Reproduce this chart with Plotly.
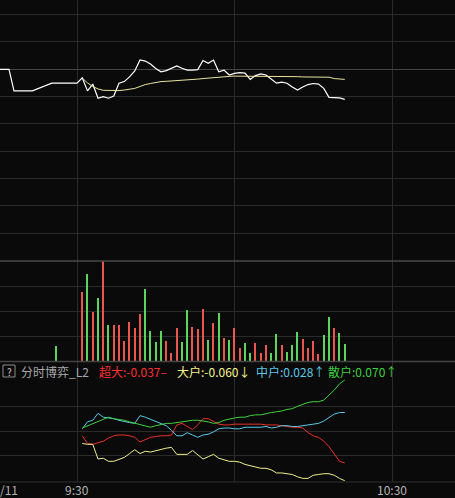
import plotly.graph_objects as go

# x = minutes after 9:30 (negative = pre-open auction)
pre_minutes = [-14.67, -12.95, -12.0, -8.5, -4.8]
pre_price = [0.00, 0.00, -0.79, -0.79, -0.51]

minutes = list(range(0, 52))
price = [-0.51, -0.31, -0.79, -0.54, -1.06, -1.00, -1.06, -0.98, -0.51, -0.45,
         -0.28, -0.06, 0.34, 0.30, 0.19, 0.03, -0.09, -0.05, 0.04, 0.12,
         0.04, -0.03, -0.03, -0.01, 0.32, 0.22, 0.34, -0.09, -0.03, -0.21,
         -0.15, -0.12, -0.14, -0.37, -0.23, -0.17, -0.21, -0.37, -0.51, -0.47,
         -0.51, -0.65, -0.76, -0.65, -0.56, -0.52, -0.54, -0.70, -1.03, -1.04,
         -1.05, -1.10]

avg_minutes = list(range(1, 52))
avg_price = [-0.32, -0.50, -0.63, -0.72, -0.77, -0.78, -0.78, -0.78, -0.76, -0.73,
             -0.70, -0.63, -0.56, -0.52, -0.48, -0.45, -0.44, -0.43, -0.42, -0.40,
             -0.39, -0.37, -0.36, -0.34, -0.32, -0.30, -0.29, -0.27, -0.26, -0.25,
             -0.25, -0.25, -0.25, -0.25, -0.25, -0.25, -0.26, -0.26, -0.26, -0.27,
             -0.27, -0.27, -0.28, -0.28, -0.28, -0.28, -0.28, -0.29, -0.34, -0.36,
             -0.37]

vol_minutes = [-4] + list(range(1, 52))
volume = [310,
          1400, 1744, 996, 1276, 2004, 730, 730, 730, 410, 796,
          676, 960, 1460, 610, 396, 620, 410, 164, 664, 396,
          1030, 696, 650, 1050, 430, 776, 970, 476, 430, 670,
          276, 376, 176, 376, 176, 330, 176, 554, 330, 196,
          330, 596, 450, 276, 416, 150, 530, 890, 664, 570,
          350]
vol_dir = list("g" "rgrgrgrrrr" "rrggggrrrg" "grrrgrgrgr" "rggrrrggrg" "ggrrrrggrgg")

flow_minutes = list(range(1, 52))
super_large = [-0.002, -0.012, -0.013, -0.011, -0.009, -0.005, -0.002, -0.001, -0.001, -0.002,
               -0.004, -0.010, -0.007, -0.004, -0.003, -0.002, -0.002, -0.001, 0.012, 0.014,
               0.010, 0.006, 0.012, 0.020, 0.020, 0.017, 0.013, 0.012, 0.012, 0.013,
               0.013, 0.013, 0.013, 0.013, 0.013, 0.012, 0.012, 0.012, 0.011, 0.010,
               0.009, 0.009, 0.008, 0.002, -0.002, -0.004, -0.009, -0.016, -0.026, -0.035,
               -0.037]
large = [-0.012, -0.013, -0.013, -0.032, -0.031, -0.035, -0.035, -0.033, -0.030, -0.025,
         -0.020, -0.025, -0.022, -0.023, -0.021, -0.019, -0.018, -0.017, -0.026, -0.026,
         -0.026, -0.021, -0.027, -0.032, -0.029, -0.026, -0.031, -0.033, -0.035, -0.035,
         -0.036, -0.039, -0.041, -0.043, -0.044, -0.044, -0.046, -0.050, -0.050, -0.051,
         -0.052, -0.055, -0.057, -0.057, -0.053, -0.052, -0.051, -0.051, -0.053, -0.057,
         -0.060]
medium = [0.007, 0.016, 0.018, 0.027, 0.022, 0.021, 0.020, 0.018, 0.016, 0.015,
          0.014, 0.024, 0.022, 0.019, 0.016, 0.013, 0.011, 0.005, -0.002, -0.002,
          0.002, -0.001, -0.004, -0.001, 0.000, 0.003, 0.007, 0.008, 0.008, 0.007,
          0.007, 0.009, 0.009, 0.009, 0.009, 0.010, 0.008, 0.009, 0.011, 0.011,
          0.010, 0.010, 0.011, 0.012, 0.013, 0.014, 0.017, 0.022, 0.026, 0.028,
          0.028]
small = [0.008, 0.011, 0.014, 0.017, 0.020, 0.022, 0.020, 0.019, 0.018, 0.016,
         0.014, 0.012, 0.010, 0.009, 0.011, 0.013, 0.014, 0.014, 0.015, 0.016,
         0.017, 0.018, 0.018, 0.017, 0.016, 0.014, 0.015, 0.018, 0.020, 0.021,
         0.022, 0.022, 0.024, 0.025, 0.025, 0.027, 0.028, 0.029, 0.030, 0.032,
         0.033, 0.036, 0.039, 0.041, 0.042, 0.042, 0.044, 0.050, 0.057, 0.065,
         0.070]

flow_names = ["超大", "大户", "中户", "散户"]
flow_marks = ["–", "↓", "↑", "↑"]
x_ticks = [0, 30, 60]
x_labels = ["9:30", "", "10:30"]

W, H = 455, 498
BG = "#0a0a0a"
GRID = "#2a2a2a"
FONT = "Noto Sans CJK SC"
RED, GREEN = "#e8584f", "#5fd35f"
FLOW_COLORS = ["#e8312a", "#eeee90", "#5bc8e6", "#3fd03f"]
TEXT_COLORS = ["#ff3030", "#f4f48a", "#5bc8e6", "#3fd03f"]


def px(x):
    return x / W


def py(y):
    return 1 - y / H


def label(fig, x, y, text, color, size=12, xanchor="left", xref="paper"):
    fig.add_annotation(x=x, y=py(y), xref=xref, yref="paper", text=text,
                       xanchor=xanchor, yanchor="middle", showarrow=False,
                       borderpad=0, borderwidth=0,
                       font=dict(size=size, color=color, family=FONT))


fig = go.Figure()

# price panel
fig.add_trace(go.Scatter(x=pre_minutes + minutes, y=pre_price + price, mode="lines",
                         line=dict(color="#ffffff", width=1.2), xaxis="x", yaxis="y"))
fig.add_trace(go.Scatter(x=avg_minutes, y=avg_price, mode="lines",
                         line=dict(color="#e6e6a0", width=1), xaxis="x", yaxis="y"))

# volume panel
fig.add_trace(go.Bar(x=vol_minutes, y=volume, width=0.2,
                     marker=dict(color=[RED if d == "r" else GREEN for d in vol_dir], line_width=0),
                     xaxis="x2", yaxis="y2"))

# order-flow panel
for vals, col in zip([super_large, large, medium, small], FLOW_COLORS):
    fig.add_trace(go.Scatter(x=flow_minutes, y=vals, mode="lines",
                             line=dict(color=col, width=1), xaxis="x3", yaxis="y3"))

xcommon = dict(range=[-14.667, 72], tickvals=x_ticks, showticklabels=False,
               showgrid=True, gridcolor=GRID, gridwidth=1, zeroline=False, showline=False)
fig.update_layout(
    width=W, height=H, margin=dict(l=0, r=0, t=0, b=0),
    paper_bgcolor=BG, plot_bgcolor=BG, showlegend=False, bargap=0,
    font=dict(family=FONT, size=12, color="#b4b4b4"),
    xaxis=dict(domain=[0, 1], anchor="y", **xcommon),
    xaxis2=dict(domain=[0, 1], anchor="y2", **xcommon),
    xaxis3=dict(domain=[0, 1], anchor="y3", **xcommon),
    yaxis=dict(domain=[py(261), 1], range=[-7.022, 2.538], tick0=0, dtick=1,
               showticklabels=False, gridcolor=GRID, zeroline=True,
               zerolinecolor="#444444", zerolinewidth=1),
    yaxis2=dict(domain=[py(361.5), py(261)], range=[0, 2010], tickvals=[500, 1000, 1500],
                showticklabels=False, gridcolor=GRID, zeroline=False),
    yaxis3=dict(domain=[py(482), py(361.5)], range=[-0.0617, 0.0939],
                tickvals=[0.0364, 0.0041, -0.0281], showticklabels=False,
                gridcolor=GRID, zeroline=False),
)

# panel separators
for y, c in [(261, "#4a4a4a"), (361.5, "#444444"), (482, "#2e2e2e")]:
    fig.add_shape(type="line", xref="paper", yref="paper", x0=0, x1=1, y0=py(y), y1=py(y),
                  line=dict(color=c, width=1.5 if y < 400 else 1))

# indicator header
fig.add_shape(type="rect", xref="paper", yref="paper", x0=px(3), x1=px(15),
              y0=py(377), y1=py(365), line=dict(color="#8c8c8c", width=1))
label(fig, px(9), 371, "?", "#cfcfcf", size=10, xanchor="center")
label(fig, px(20.5), 371, "分时博弈_L2", "#a8a8a8")
last_vals = [super_large[-1], large[-1], medium[-1], small[-1]]
for name, v, mark, col, x0 in zip(flow_names, last_vals, flow_marks, TEXT_COLORS,
                                  [99, 176.5, 256, 328]):
    label(fig, px(x0), 371, f"{name}:{v:.3f}{mark}", col)

# time labels
for t, lab in zip(x_ticks, x_labels):
    if lab:
        label(fig, t, 489.5, lab, "#b4b4b4", xanchor="center", xref="x3")
label(fig, 0, 489.5, "/11", "#b4b4b4")

fig.write_html("out.html", config={"displayModeBar": False},
               post_script="document.body.style.margin='0';")
